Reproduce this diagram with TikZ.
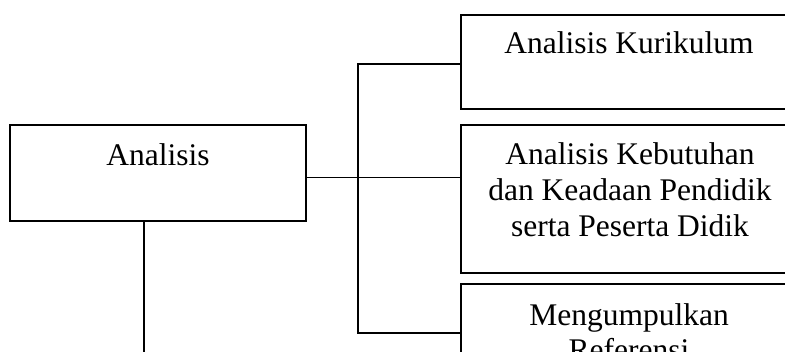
\documentclass[tikz,border=0pt]{standalone}
\usepackage{fontspec}
\setmainfont{Liberation Serif}
\begin{document}
\begin{tikzpicture}[x=1pt,y=1pt,
  box/.style={draw=black,line width=1.6pt,rectangle,inner sep=0pt},
  txt/.style={anchor=base,inner sep=0pt,font=\fontsize{31.5}{36}\selectfont},
  conn/.style={draw=black,line width=1.6pt}]
\useasboundingbox (0,0) rectangle (785,351);
\fill[white] (0,0) rectangle (785,351);
\clip (0,0) rectangle (785,351);
% boxes
\node[box,minimum width=296pt,minimum height=96pt] (analisis) at (158,178) {};
\node[box,minimum width=336pt,minimum height=94pt] (box1) at (629,289) {};
\node[box,minimum width=336pt,minimum height=148pt] (box2) at (629,152) {};
\node[box,minimum width=336pt,minimum height=148pt] (box3) at (629,-7) {};
% texts
\node[txt] (t0) at (158,185) {Analisis};
\node[txt] (t1) at (629,297) {Analisis Kurikulum};
\node[txt] (t2) at (630,186) {\setlength{\tabcolsep}{0pt}\begin{tabular}[t]{c}Analisis Kebutuhan\\dan Keadaan Pendidik\\serta Peserta Didik\end{tabular}};
\node[txt] (t3) at (629,26) {\setlength{\tabcolsep}{0pt}\begin{tabular}[t]{c}Mengumpulkan\\Referensi\end{tabular}};
% connectors
\coordinate (jA) at ([yshift=-4.5pt]analisis.east);
\coordinate (top) at (358,287);
\coordinate (bot) at (358,18);
\coordinate (down) at (144,-10);
\draw[conn] (jA) -- (box2.west |- jA);
\draw[conn] (box1.west |- top) -- (top) -- (bot) -- (box3.west |- bot);
\draw[conn] (analisis.south -| down) -- (down);
\end{tikzpicture}
\end{document}
